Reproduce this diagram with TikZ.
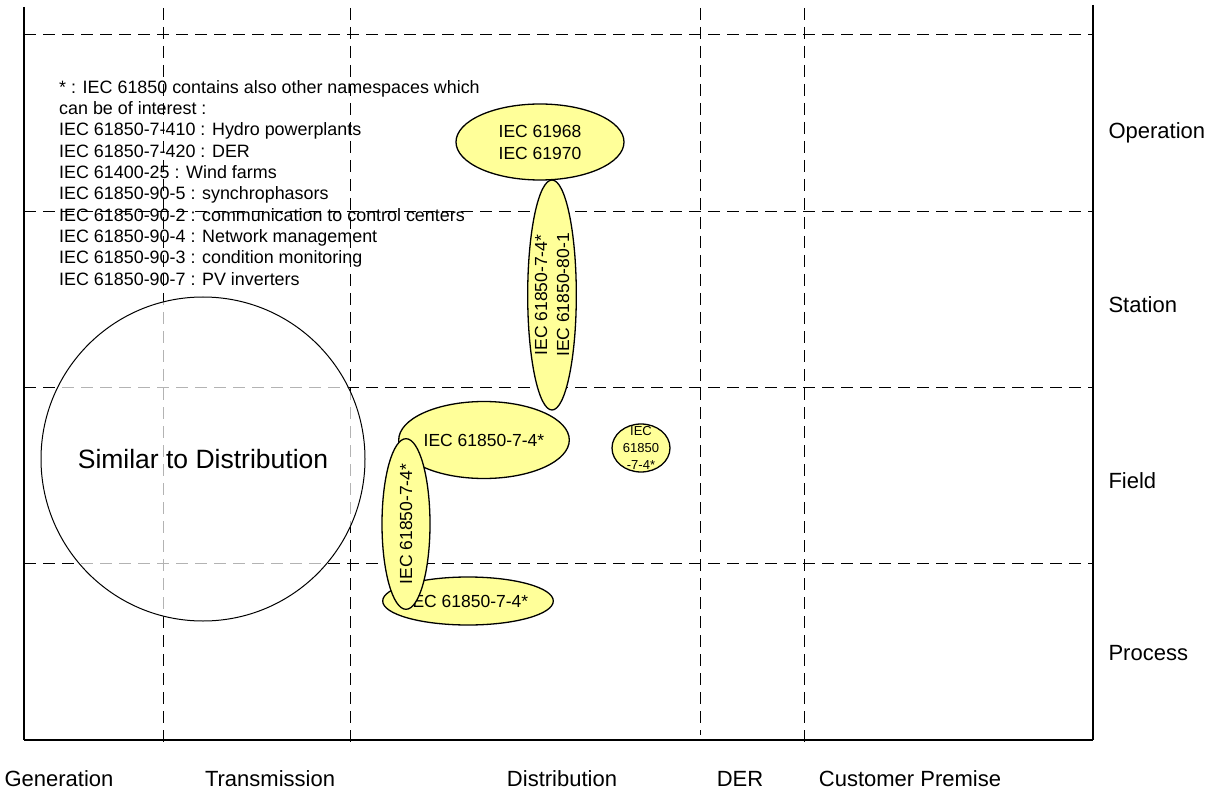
\documentclass[tikz,border=0pt]{standalone}
\usepackage{fontspec}
\setmainfont{Liberation Sans}
\usetikzlibrary{shapes.geometric}
\definecolor{stdyellow}{HTML}{FFFF99}

\begin{document}
\begin{tikzpicture}[x=1pt,y=-1pt,
    gridline/.style={dash pattern=on 12pt off 7pt, line width=0.9pt},
    stdellipse/.style={ellipse, draw, line width=1.3pt, fill=stdyellow, inner sep=0pt,
      align=center, font=\fontsize{17.5}{22}\selectfont},
    layerlabel/.style={anchor=west, font=\fontsize{22}{26}\selectfont},
    domainlabel/.style={font=\fontsize{22}{26}\selectfont}]
    \useasboundingbox (0,0) rectangle (1218,794);

    % Define points
    \coordinate (O) at (24,740);
    \coordinate (TL) at (24,7);
    \coordinate (BR) at (1093,740);
    \coordinate (TR) at (1093,5);

    % Draw grid
    \foreach \y in {34,211,387,563}
      \draw[gridline] (24,\y) -- (1093,\y);
    \foreach \x in {163,350,804}
      \draw[gridline] (\x,8) -- (\x,744);
    \draw[gridline] (700,8) -- (700,735);

    % Draw axes
    \draw[line width=2.5pt] (TL) -- (O);
    \draw[line width=1.5pt] (O) -- (BR);
    \draw[line width=2pt] (TR) -- (BR);

    % Similar domain
    \node[circle, draw, line width=1pt, fill=white, fill opacity=0.7, text opacity=1,
      minimum size=324pt, inner sep=0pt, font=\fontsize{26.5}{30}\selectfont]
      (simdist) at (203,459) {Similar to Distribution};

    % Note
    \node[anchor=north west, inner sep=0pt, align=left, font=\fontsize{17.9}{21.33}\selectfont]
      (note) at (59,80) {* : IEC 61850 contains also other namespaces which\\
      can be of interest :\\
      IEC 61850-7-410 : Hydro powerplants\\
      IEC 61850-7-420 : DER\\
      IEC 61400-25 : Wind farms\\
      IEC 61850-90-5 : synchrophasors\\
      IEC 61850-90-2 : communication to control centers\\
      IEC 61850-90-4 : Network management\\
      IEC 61850-90-3 : condition monitoring\\
      IEC 61850-90-7 : PV inverters};

    % Standards
    \node[stdellipse, minimum width=168pt, minimum height=76pt]
      (cim) at (540,142) {IEC 61968\\IEC 61970};
    \node[stdellipse, minimum width=168pt, minimum height=77pt]
      (field) at (484,440) {IEC 61850-7-4*};
    \node[stdellipse, minimum width=164pt, minimum height=48pt]
      (process) at (468,601) {IEC 61850-7-4*};
    \node[stdellipse, minimum width=58pt, minimum height=48pt]
      (der) at (641,448) {};
    \node[align=center, inner sep=0pt, font=\fontsize{13}{17}\selectfont]
      (dertext) at (der.center) {IEC\\61850\\-7-4*};
    \node[stdellipse, rotate=90, minimum width=164pt, minimum height=48pt]
      (fieldv) at (406,524) {IEC 61850-7-4*};
    \node[stdellipse, rotate=90, minimum width=230pt, minimum height=46pt]
      (station) at (552,295) {IEC 61850-7-4*\\IEC 61850-80-1};

    % Labels
    \node[layerlabel] (oper) at (1105,133) {Operation};
    \node[layerlabel] (stat) at (1105,305) {Station};
    \node[layerlabel] (fld) at (1105,481) {Field};
    \node[layerlabel] (proc) at (1105,653) {Process};
    \node[domainlabel] (gen) at (59,779) {Generation};
    \node[domainlabel] (trans) at (270,779) {Transmission};
    \node[domainlabel] (dist) at (562,779) {Distribution};
    \node[domainlabel] (dere) at (740,779) {DER};
    \node[domainlabel] (cust) at (910,779) {Customer Premise};
\end{tikzpicture}
\end{document}
